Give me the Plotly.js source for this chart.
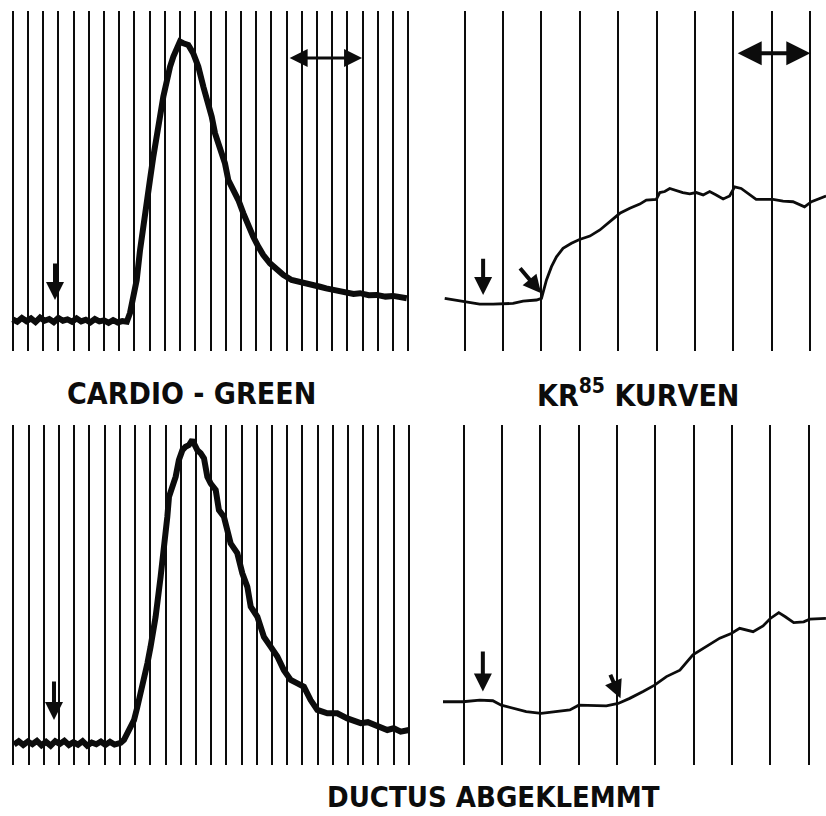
<!DOCTYPE html>
<html>
<head>
<meta charset="utf-8">
<script src="https://cdn.plot.ly/plotly-3.0.1.min.js"></script>
<style>html,body{margin:0;padding:0;background:#fff;}#chart{width:826px;height:816px;}</style>
</head>
<body>
<div id="chart"></div>
<script>
// ---- Data (time in grid-mark units, deflection in arbitrary units 0-100) ----
// Top left: Cardio-Green dilution curve
const cgTopT = [0,0.3,0.6,0.9,1.2,1.5,1.8,2.1,2.4,2.7,3.0,3.3,3.6,3.9,4.2,4.5,4.8,5.1,5.4,5.7,6.0,6.3,6.6,6.9,7.2,7.5,
  7.71,7.93,8.15,8.37,8.58,8.81,9.02,9.24,9.46,9.68,9.90,10.12,10.34,10.56,10.78,10.99,11.21,11.54,11.86,12.2,12.53,12.86,13.08,13.3,13.63,13.95,14.17,14.5,14.83,15.16,15.48,15.81,16.14,16.47,16.91,17.35,17.78,18.33,18.88,19.54,20.2,20.6,21.07,21.5,21.95,22.4,22.83,23.4,23.92,24.5,25.01,25.5,25.9];
const cgTopV = [9.3,8.6,9.7,8.8,9.6,8.5,9.8,8.9,9.4,8.5,9.7,8.9,9.3,8.6,9.6,8.7,9.2,8.4,9.4,8.7,9.0,8.3,9.1,8.4,8.8,8.6,
  11.2,16.0,20.9,29.7,35.6,42.4,50.3,57.1,62.1,68.9,74.8,79.7,83.6,86.6,89.5,91.0,90.5,90.0,87.6,83.6,77.7,72.8,68.9,64.0,59.1,55.2,50.3,47.4,44.4,40.5,36.6,33.6,30.7,28.2,25.8,23.8,22.4,20.9,20.4,19.9,18.9,18.4,17.9,17.5,17.4,16.8,17.0,16.4,16.5,16.0,16.2,15.6,15.5];
// Top right: Kr85 curve
const krTopT = [-0.52,-0.22,0,0.39,0.74,1.0,1.26,1.52,1.87,2.0,2.04,2.13,2.26,2.39,2.56,2.78,2.99,3.26,3.52,3.78,4.04,4.30,4.56,4.73,4.99,5.08,5.21,5.34,5.51,5.68,5.86,6.03,6.21,6.38,6.55,6.73,6.9,7.03,7.2,7.38,7.59,7.77,8.03,8.29,8.55,8.85,9.03,9.41];
const krTopV = [15.5,15.0,14.5,13.8,13.8,13.8,14.0,14.7,15.0,15.5,17.4,20.9,24.8,27.7,30.2,31.7,32.8,33.8,35.6,38.0,40.5,42.0,43.2,44.4,44.6,46.6,46.9,47.8,47.1,46.6,46.2,46.6,45.9,46.9,45.9,44.7,45.6,48.3,47.8,46.4,44.6,44.6,44.6,44.1,43.9,42.4,43.9,45.6];
// Bottom left: Cardio-Green, ductus clamped
const cgBotT = [0.04,0.35,0.65,0.95,1.25,1.55,1.85,2.15,2.45,2.75,3.05,3.35,3.65,3.95,4.25,4.55,4.85,5.15,5.45,5.75,6.05,6.35,6.65,7.05,
  7.27,7.6,7.93,8.15,8.48,8.81,9.02,9.35,9.68,9.9,10.12,10.23,10.45,10.67,10.88,11.11,11.32,11.54,11.76,12.09,12.31,12.53,12.75,12.97,13.3,13.51,13.84,14.28,14.72,15.05,15.38,15.6,16.04,16.47,16.91,17.35,17.78,18.23,18.67,19.1,19.54,19.98,20.64,21.29,21.95,22.4,22.83,23.3,23.7,24.1,24.58,25.0,25.46,26.0];
const cgBotV = [6.0,7.0,5.9,6.9,6.1,7.1,5.8,6.8,5.7,7.0,6.2,7.1,5.9,6.7,6.0,7.0,5.7,6.6,6.1,6.9,5.9,6.8,6.0,6.5,
  7.4,10.3,13.2,17.1,23.0,29.9,34.8,43.6,55.4,63.2,73.0,78.9,81.4,84.8,89.7,92.6,93.6,94.1,95.6,92.6,91.7,90.2,84.8,82.8,80.9,75.0,73.0,65.2,62.3,56.4,52.4,46.6,43.6,37.7,34.8,31.9,27.9,25.0,24.0,23.0,19.1,16.2,15.2,15.2,13.7,13.0,12.3,12.6,11.8,11.2,10.3,10.8,9.8,10.3];
// Bottom right: Kr85, ductus clamped
const krBotT = [-0.54,-0.02,0.42,0.76,0.98,1.29,1.63,2.02,2.42,2.77,3.0,3.37,3.72,4.03,4.33,4.68,4.98,5.29,5.64,5.98,6.33,6.68,6.98,7.2,7.55,7.81,8.0,8.22,8.39,8.61,8.87,9.03,9.45];
const krBotV = [18.6,18.6,19.1,18.9,17.6,16.7,15.7,15.2,15.7,16.2,17.6,17.6,17.4,18.1,19.6,21.6,23.5,26.0,27.9,32.4,34.8,37.3,38.7,40.2,39.2,40.9,43.1,44.8,43.6,41.9,42.1,42.9,43.1];

// Injection arrows and timing marks
const injTL = {t: 2.78, from: 26.2, to: 15.0};
const injTR = {t: 0.48, from: 27.6, to: 16.5};
const arrTR = {tFrom: 1.41, vFrom: 24.8, tTo: 1.99, vTo: 17.0};
const injBL = {t: 2.67, from: 25.0, to: 13.2};
const injBR = {t: 0.5, from: 33.8, to: 21.6};
const arrBR = {tFrom: 3.81, vFrom: 27.0, tTo: 4.09, vTo: 19.6};
// Time scale bars
const barTL = {t0: 18.1, t1: 22.96, v: 86.2};
const barTR = {t0: 7.07, t1: 9.0, v: 87.6};

const labels = ['CARDIO - GREEN', 'KR<sup>85</sup> KURVEN', 'DUCTUS ABGEKLEMMT'];

const ink = '#0c0c0c';
function trace(x, y, xa, ya, w) {
  return {x: x, y: y, xaxis: xa, yaxis: ya, mode: 'lines', type: 'scatter',
    line: {color: ink, width: w, shape: 'linear'}, hoverinfo: 'skip'};
}
const data = [
  trace(cgTopT, cgTopV, 'x', 'y', 6),
  trace(krTopT, krTopV, 'x2', 'y2', 2.8),
  trace(cgBotT, cgBotV, 'x3', 'y3', 6),
  trace(krBotT, krBotV, 'x4', 'y4', 2.8)
];

function xAx(dom, rng) {
  return {domain: dom, range: rng, tickmode: 'linear', tick0: 0, dtick: 1,
    showgrid: true, gridcolor: ink, gridwidth: 2, showticklabels: false,
    ticks: '', zeroline: false, showline: false, fixedrange: true};
}
function yAx(dom) {
  return {domain: dom, range: [0, 100], showgrid: false, showticklabels: false,
    ticks: '', zeroline: false, showline: false, fixedrange: true};
}
const W = 826, H = 816;
const leftDom = [5 / W, 415 / W], rightDom = [440 / W, 1];
const topDom = [1 - 351 / H, 1 - 11 / H], botDom = [1 - 765 / H, 1 - 425 / H];

function arrow(xr, yr, tx, ty, hx, hy, w, both) {
  return {xref: xr, yref: yr, axref: xr, ayref: yr, x: hx, y: hy, ax: tx, ay: ty,
    text: '', showarrow: true, arrowhead: 2, arrowsize: both ? 1.2 : 0.9, arrowwidth: w,
    arrowcolor: ink, arrowside: both ? 'end+start' : 'end', startarrowhead: 2,
    startarrowsize: 1.2, standoff: 0, startstandoff: 0};
}
const fontLab = {family: 'DejaVu Sans Condensed, DejaVu Sans, sans-serif', size: 30, color: ink, weight: 'bold'};
const fontLab2 = {family: 'DejaVu Sans Condensed, DejaVu Sans, sans-serif', size: 29, color: ink, weight: 'bold'};
const annotations = [
  arrow('x', 'y', injTL.t, injTL.from, injTL.t, injTL.to, 4, false),
  arrow('x2', 'y2', injTR.t, injTR.from, injTR.t, injTR.to, 4, false),
  arrow('x2', 'y2', arrTR.tFrom, arrTR.vFrom, arrTR.tTo, arrTR.vTo, 4, false),
  arrow('x3', 'y3', injBL.t, injBL.from, injBL.t, injBL.to, 4, false),
  arrow('x4', 'y4', injBR.t, injBR.from, injBR.t, injBR.to, 4, false),
  arrow('x4', 'y4', arrBR.tFrom, arrBR.vFrom, arrBR.tTo, arrBR.vTo, 4, false),
  arrow('x', 'y', barTL.t0, barTL.v, barTL.t1, barTL.v, 3, true),
  arrow('x2', 'y2', barTR.t0, barTR.v, barTR.t1, barTR.v, 4, true),
  {xref: 'paper', yref: 'paper', x: 191 / W, y: 1 - 393 / H, text: '<b>' + labels[0] + '</b>', showarrow: false, font: fontLab, xanchor: 'center', yanchor: 'middle', borderpad: 0},
  {xref: 'paper', yref: 'paper', x: 638 / W, y: 1 - 393 / H, text: '<b>' + labels[1] + '</b>', showarrow: false, font: fontLab, xanchor: 'center', yanchor: 'middle', borderpad: 0},
  {xref: 'paper', yref: 'paper', x: 493 / W, y: 1 - 797 / H, text: '<b>' + labels[2] + '</b>', showarrow: false, font: fontLab2, xanchor: 'center', yanchor: 'middle', borderpad: 0}
];

const layout = {
  width: W, height: H, margin: {l: 0, r: 0, t: 0, b: 0, pad: 0},
  paper_bgcolor: '#ffffff', plot_bgcolor: '#ffffff', showlegend: false,
  xaxis: xAx(leftDom, [-0.506, 26.44]), yaxis: yAx(topDom),
  xaxis2: xAx(rightDom, [-0.643, 9.409]), yaxis2: Object.assign(yAx(topDom), {anchor: 'x2'}),
  xaxis3: xAx(leftDom, [-0.55, 26.4]), yaxis3: Object.assign(yAx(botDom), {anchor: 'x3'}),
  xaxis4: xAx(rightDom, [-0.618, 9.452]), yaxis4: Object.assign(yAx(botDom), {anchor: 'x4'}),
  annotations: annotations
};
layout.xaxis.anchor = 'y';
layout.xaxis2.anchor = 'y2';
layout.xaxis3.anchor = 'y3';
layout.xaxis4.anchor = 'y4';

Plotly.newPlot('chart', data, layout, {staticPlot: true, displayModeBar: false});
</script>
</body>
</html>
